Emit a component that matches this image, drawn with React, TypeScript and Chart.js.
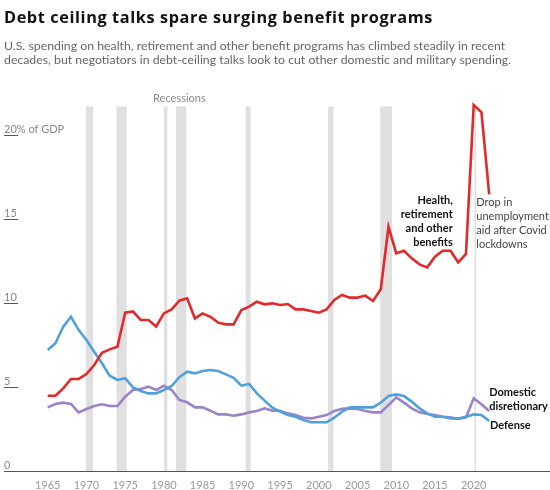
import React, { useEffect, useRef } from "react";
import { Chart, registerables } from "chart.js";

Chart.register(...registerables);

// ---- Data (percent of GDP) ----
const years = [
  1965, 1966, 1967, 1968, 1969, 1970, 1971, 1972, 1973, 1974,
  1975, 1976, 1977, 1978, 1979, 1980, 1981, 1982, 1983, 1984,
  1985, 1986, 1987, 1988, 1989, 1990, 1991, 1992, 1993, 1994,
  1995, 1996, 1997, 1998, 1999, 2000, 2001, 2002, 2003, 2004,
  2005, 2006, 2007, 2008, 2009, 2010, 2011, 2012, 2013, 2014,
  2015, 2016, 2017, 2018, 2019, 2020, 2021, 2022,
];

const benefits = [
  4.48, 4.48, 4.92, 5.48, 5.48, 5.77, 6.31, 7.04, 7.24, 7.4,
  9.42, 9.5, 8.99, 8.99, 8.6, 9.38, 9.62, 10.14, 10.28, 9.08,
  9.38, 9.18, 8.83, 8.73, 8.73, 9.58, 9.78, 10.08, 9.92, 9.98,
  9.88, 9.94, 9.62, 9.62, 9.52, 9.42, 9.62, 10.18, 10.48, 10.32,
  10.32, 10.44, 10.12, 10.82, 14.54, 12.96, 13.11, 12.66, 12.3, 12.12,
  12.76, 13.11, 13.11, 12.42, 12.92, 21.79, 21.35, 16.47,
];

const defense = [
  7.2, 7.6, 8.59, 9.18, 8.39, 7.8, 7.1, 6.41, 5.67, 5.42,
  5.52, 4.98, 4.76, 4.62, 4.62, 4.82, 5.06, 5.58, 5.91, 5.81,
  5.95, 6.01, 5.95, 5.75, 5.55, 5.08, 5.18, 4.62, 4.19, 3.77,
  3.53, 3.33, 3.23, 3.04, 2.9, 2.9, 2.9, 3.17, 3.53, 3.79,
  3.79, 3.79, 3.79, 4.07, 4.46, 4.56, 4.46, 4.13, 3.73, 3.43,
  3.23, 3.23, 3.13, 3.13, 3.23, 3.37, 3.33, 2.98,
];

const domestic = [
  3.79, 3.99, 4.07, 3.99, 3.49, 3.69, 3.87, 3.97, 3.87, 3.87,
  4.42, 4.82, 4.88, 5.02, 4.82, 5.08, 4.82, 4.23, 4.09, 3.79,
  3.79, 3.59, 3.37, 3.37, 3.29, 3.37, 3.49, 3.57, 3.73, 3.59,
  3.59, 3.43, 3.33, 3.17, 3.13, 3.23, 3.33, 3.57, 3.71, 3.73,
  3.69, 3.57, 3.49, 3.49, 3.93, 4.38, 4.07, 3.73, 3.49, 3.39,
  3.33, 3.23, 3.19, 3.1, 3.19, 4.33, 3.97, 3.57,
];

const xTickYears = [1965, 1970, 1975, 1980, 1985, 1990, 1995, 2000, 2005, 2010, 2015, 2020];
const yTickValues = [0, 5, 10, 15, 20];
const yTickLabels = ["0", "5", "10", "15", "20% of GDP"];

// Recession periods [start, end] in fractional years
const recessions: [number, number][] = [
  [1969.92, 1970.85],
  [1973.88, 1975.2],
  [1980.0, 1980.45],
  [1981.55, 1982.9],
  [1990.55, 1991.2],
  [2001.2, 2001.9],
  [2007.92, 2009.45],
  [2020.1, 2020.3],
];

const titleText = "Debt ceiling talks spare surging benefit programs";
const subtitleLines = [
  "U.S. spending on health, retirement and other benefit programs has climbed steadily in recent",
  "decades, but negotiators in debt-ceiling talks look to cut other domestic and military spending.",
];
const benefitsLabel = ["Health,", "retirement", "and other", "benefits"];
const covidNote = ["Drop in", "unemployment", "aid after Covid", "lockdowns"];
const domesticLabel = ["Domestic", "disretionary"];
const defenseLabel = ["Defense"];

const FONT = "Lato, 'Noto Sans', sans-serif";
const TITLE_FONT = "'Open Sans', Lato, sans-serif";
const RED = "#e2292b";
const BLUE = "#4fa2d9";
const PURPLE = "#9b83c7";

export default function App() {
  const ref = useRef<HTMLCanvasElement>(null);

  useEffect(() => {
    const canvas = ref.current;
    if (!canvas) return;

    const overlay = {
      id: "overlay",
      beforeDatasetsDraw(chart: any) {
        const { ctx } = chart;
        const xs = chart.scales.x;
        const ys = chart.scales.y;
        ctx.save();
        ctx.fillStyle = "#e0e0e0";
        const top = ys.getPixelForValue(21.7);
        const bottom = ys.getPixelForValue(0);
        recessions.forEach(([s, e]) => {
          const x1 = xs.getPixelForValue(s);
          const x2 = xs.getPixelForValue(e);
          ctx.fillRect(x1, top, Math.max(1, x2 - x1), bottom - top);
        });
        // "Recessions" label
        ctx.fillStyle = "#8a8a8a";
        ctx.font = `11px ${FONT}`;
        ctx.textAlign = "center";
        ctx.textBaseline = "alphabetic";
        ctx.fillText("Recessions", xs.getPixelForValue(1982), top - 4);

        // y ticks: short underline + label
        ctx.textAlign = "left";
        ctx.font = `11px ${FONT}`;
        yTickValues.forEach((v, i) => {
          const y = Math.round(ys.getPixelForValue(v)) + 0.5;
          if (v > 0) {
            ctx.strokeStyle = "#555";
            ctx.lineWidth = 1;
            ctx.beginPath();
            ctx.moveTo(4, y);
            ctx.lineTo(18, y);
            ctx.stroke();
          }
          ctx.fillStyle = "#888";
          ctx.fillText(yTickLabels[i], 4, y - 3);
        });
        // axis line
        const y0 = Math.round(bottom) + 0.5;
        ctx.strokeStyle = "#555";
        ctx.beginPath();
        ctx.moveTo(4, y0);
        ctx.lineTo(chart.width, y0);
        ctx.stroke();
        // x tick labels
        ctx.fillStyle = "#999";
        ctx.font = `11px ${FONT}`;
        ctx.textAlign = "center";
        ctx.textBaseline = "middle";
        xTickYears.forEach((v) => ctx.fillText(String(v), xs.getPixelForValue(v), y0 + 14));
        ctx.restore();
      },
      afterDraw(chart: any) {
        const { ctx } = chart;
        const xs = chart.scales.x;
        const ys = chart.scales.y;
        ctx.save();
        ctx.textBaseline = "alphabetic";
        ctx.textAlign = "left";
        // title
        ctx.fillStyle = "#111";
        ctx.font = `bold 16.3px ${TITLE_FONT}`;
        try {
          (ctx as any).letterSpacing = "0.6px";
        } catch (e) {}
        ctx.fillText(titleText, 4, 23);
        try {
          (ctx as any).letterSpacing = "0px";
        } catch (e) {}
        // subtitle
        ctx.fillStyle = "#666";
        ctx.font = `12.3px ${FONT}`;
        subtitleLines.forEach((l, i) => ctx.fillText(l, 4, 50 + i * 13.5));

        ctx.textBaseline = "middle";
        const lh = 14;
        // benefits label
        ctx.fillStyle = "#111";
        ctx.font = `bold 11px ${FONT}`;
        ctx.textAlign = "right";
        benefitsLabel.forEach((l, i) =>
          ctx.fillText(l, xs.getPixelForValue(2017.3), ys.getPixelForValue(16.13) + i * lh)
        );
        // domestic / defense labels
        ctx.textAlign = "left";
        domesticLabel.forEach((l, i) =>
          ctx.fillText(l, xs.getPixelForValue(2022), ys.getPixelForValue(4.7) + i * lh)
        );
        defenseLabel.forEach((l, i) =>
          ctx.fillText(l, xs.getPixelForValue(2022.1), ys.getPixelForValue(2.7) + i * lh)
        );
        // covid note
        ctx.fillStyle = "#444";
        ctx.font = `11px ${FONT}`;
        covidNote.forEach((l, i) =>
          ctx.fillText(l, xs.getPixelForValue(2020.34), ys.getPixelForValue(16.0) + i * lh)
        );
        ctx.restore();
      },
    };

    const mk = (vals: number[], color: string) => ({
      data: vals.map((v, i) => ({ x: years[i], y: v })),
      borderColor: color,
      backgroundColor: color,
      borderWidth: 2.6,
      pointRadius: 0,
      tension: 0,
      fill: false,
      clip: false as any,
    });

    const chart = new Chart(canvas, {
      type: "line",
      data: {
        datasets: [mk(benefits, RED), mk(defense, BLUE), mk(domestic, PURPLE)],
      },
      options: {
        animation: false,
        responsive: true,
        maintainAspectRatio: false,
        layout: { padding: { top: 101.4, left: 9, right: 0, bottom: 19 } },
        plugins: { legend: { display: false }, tooltip: { enabled: false } },
        scales: {
          x: { type: "linear", min: 1960, max: 2029.85, display: false },
          y: { min: 0, max: 22, display: false },
        },
      } as any,
      plugins: [overlay],
    });
    return () => chart.destroy();
  }, []);

  return (
    <div style={{ position: "fixed", left: 0, top: 0, width: 550, height: 490, background: "#fff" }}>
      <canvas ref={ref} />
    </div>
  );
}
